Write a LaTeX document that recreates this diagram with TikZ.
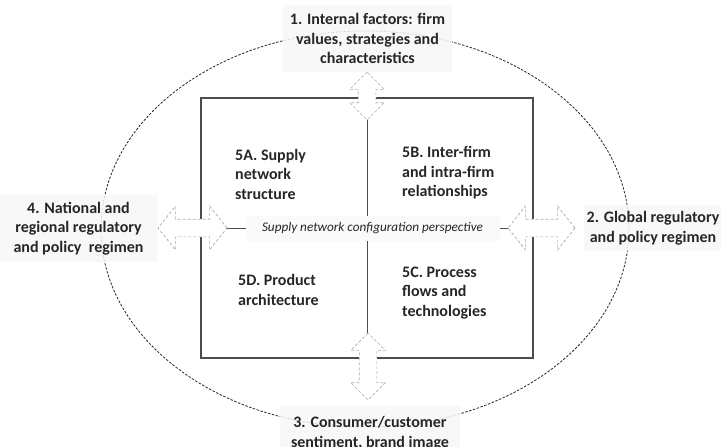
\documentclass[tikz,border=0pt]{standalone}
\usepackage{fontspec}
\setmainfont{Carlito}
\usetikzlibrary{shapes.arrows,shapes.geometric}

\tikzset{
  factor/.style={fill=gray!6, fill opacity=0.85, text opacity=1, inner sep=0pt, align=center, text=black!85, font=\bfseries\fontsize{16}{19.5}\selectfont},
  area/.style={inner sep=0pt, align=left, anchor=west, text=black!85, font=\bfseries\fontsize{16}{19.5}\selectfont},
  link/.style={double arrow, draw=gray!65, fill=white, dash pattern=on 3pt off 2pt, line width=0.7pt, inner sep=8.5pt, double arrow head indent=0pt},
  divider/.style={draw=black!70, line width=0.6pt}
}

\begin{document}
\begin{tikzpicture}[x=1pt,y=-1pt]
	\useasboundingbox (0,0) rectangle (721,447);
	\node[ellipse, draw=black!85, dash pattern=on 2.5pt off 1.5pt, line width=0.8pt, minimum width=528, minimum height=396, inner sep=0pt] (boundary) at (365,229) {};
	\node[draw=black!70, line width=1.1pt, minimum width=332, minimum height=260, inner sep=0pt] (frame) at (367,228) {};
	\draw[divider] (frame.north) -- (frame.south);
	\draw[divider] (frame.west) -- (frame.east);
	
	\node[area] (quadA) at (235,174) {5A. Supply\\network\\structure};
	\node[area] (quadB) at (402,173) {5B. Inter-firm\\and intra-firm\\relationships};
	\node[area] (quadC) at (402,293) {5C. Process\\flows and\\technologies};
	\node[area] (quadD) at (238,290) {5D. Product\\architecture};
	
	\node[link, minimum height=69, double arrow head extend=13pt, double arrow tip angle=103] (linkW) at (192.5,228) {};
	\node[link, minimum height=67, double arrow head extend=13pt, double arrow tip angle=103] (linkE) at (541.5,228) {};
	\node[link, shape border rotate=90, minimum height=48, double arrow head extend=8.5pt, double arrow tip angle=90] (linkN) at (367,96) {};
	\node[link, shape border rotate=90, minimum height=67, double arrow head extend=8.5pt, double arrow tip angle=90] (linkS) at (368,366.5) {};
	
	\node[fill=gray!4, inner sep=0pt, minimum width=254, minimum height=25, text=black!85, font=\itshape\fontsize{13.2}{15}\selectfont] (view) at (372.5,228) {Supply network configuration perspective};
	
	\node[factor, minimum width=169, minimum height=67] (internal) at (367.5,38.5) {1. Internal factors: firm\\values, strategies and\\characteristics};
	\node[factor, minimum width=138, minimum height=46] (global) at (653,228) {2. Global regulatory\\and policy regimen};
	\node[factor, minimum width=180, minimum height=55] (consumer) at (370,433) {3. Consumer/customer\\sentiment, brand image};
	\node[factor, minimum width=157, minimum height=67] (national) at (78.5,228.5) {4. National and\\regional regulatory\\and policy~~regimen};
\end{tikzpicture}
\end{document}
